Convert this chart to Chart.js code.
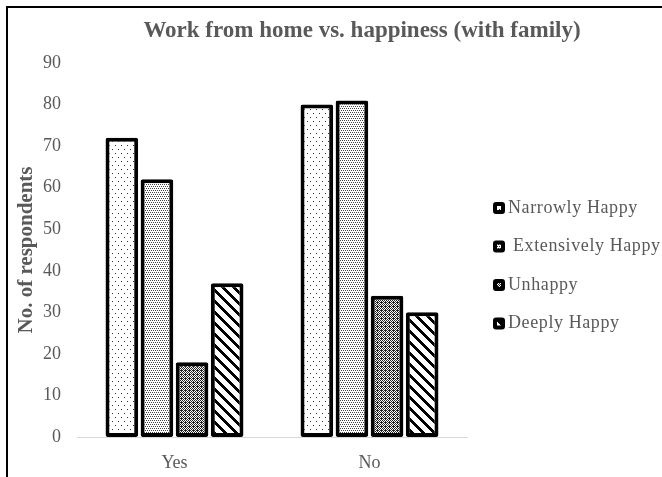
<!DOCTYPE html>
<html>
<head>
<meta charset="utf-8">
<script src="https://cdn.jsdelivr.net/npm/chart.js@4/dist/chart.umd.min.js"></script>
<style>
body { margin: 0; background: #fff; }
#frame { position: absolute; left: 6px; top: 6px; width: 660px; height: 475px; border-top: 2px solid #000; border-left: 2px solid #000; }
#myChart { position: absolute; left: 0; top: 0; }
</style>
</head>
<body>
<div id="frame"></div>
<canvas id="myChart" width="662" height="477"></canvas>
<script>
var categories = ['Yes', 'No'];
var seriesNames = ['Narrowly Happy', 'Extensively Happy', 'Unhappy', 'Deeply Happy'];
var narrowly = [72, 80];
var extensively = [62, 81];
var unhappy = [18, 34];
var deeply = [37, 30];
var yTicks = [0, 10, 20, 30, 40, 50, 60, 70, 80, 90];

// little tiles for the black & white fills
function makePattern(w, h, fn) {
    var c = document.createElement('canvas');
    c.width = w; c.height = h;
    var x = c.getContext('2d');
    x.fillStyle = '#fff';
    x.fillRect(0, 0, w, h);
    for (var i = 0; i < w; i++) {
        for (var j = 0; j < h; j++) {
            var col = fn(i, j);
            if (col) { x.fillStyle = col; x.fillRect(i, j, 1, 1); }
        }
    }
    return x.createPattern(c, 'repeat');
}
var pSparse = makePattern(6, 8, function (i, j) {
    return ((i == 1 && j == 1) || (i == 4 && j == 5)) ? '#333' : null;
});
var pDense = makePattern(4, 4, function (i, j) {
    return ((j == 0 && i % 2 == 0) || (j == 2 && i % 2 == 1)) ? '#444' : null;
});
var pCross = makePattern(4, 4, function (i, j) {
    return ((i + j) % 2 == 0 || (i == 1 && j == 2)) ? '#222' : null;
});
var pStripe = makePattern(11, 11, function (i, j) {
    return ((i - j + 11) % 11) < 4 ? '#000' : null;
});

var fills = [pSparse, pDense, pCross, pStripe];
var values = [narrowly, extensively, unhappy, deeply];
var t_datasets = [];
for (var k = 0; k < seriesNames.length; k++) {
    t_datasets.push({
        label: seriesNames[k],
        data: values[k],
        backgroundColor: fills[k],
        borderColor: '#000',
        borderWidth: 4,
        borderSkipped: false,
        borderRadius: 2,
        categoryPercentage: 0.72,
        barPercentage: 0.93
    });
}

var serif = 'Liberation Serif';
var grey = '#595959';

// title sits over plot+legend, not the whole canvas
var titlePlugin = {
    id: 'sideTitle',
    afterDraw: function (chart) {
        var c = chart.ctx;
        c.save();
        c.font = 'bold 23px "' + serif + '"';
        c.fillStyle = grey;
        c.textAlign = 'center';
        c.textBaseline = 'middle';
        c.fillText('Work from home vs. happiness (with family)', 362, 31);
        c.restore();
    }
};

// built-in legend gets squeezed to a quarter width, so draw it here
var legendPlugin = {
    id: 'sideLegend',
    afterDraw: function (chart) {
        var c = chart.ctx;
        var x0 = chart.chartArea.right + 28;
        c.save();
        c.font = '18px "' + serif + '"';
        c.letterSpacing = '0.6px';
        c.textBaseline = 'middle';
        chart.data.datasets.forEach(function (ds, i) {
            var y = 208 + i * 38.5;
            c.beginPath();
            c.roundRect(x0, y - 4, 8, 8, 1);
            c.fillStyle = ds.backgroundColor;
            c.fill();
            c.lineWidth = 4;
            c.strokeStyle = ds.borderColor;
            c.stroke();
            c.fillStyle = grey;
            c.fillText(ds.label, x0 + 13 + (i == 1 ? 5 : 0), y);
        });
        c.restore();
    }
};

var ctx = document.getElementById('myChart').getContext('2d');
var chart = new Chart(ctx, {
    type: 'bar',
    data: {
        labels: categories,
        datasets: t_datasets
    },
    options: {
        responsive: false,
        animation: false,
        layout: { padding: { top: 63, left: 14, right: 195, bottom: 0 } },
        scales: {
            x: {
                grid: { display: false, drawTicks: false },
                border: { display: true, color: '#d9d9d9', width: 1 },
                ticks: { color: grey, font: { family: serif, size: 18 }, padding: 15 },
                afterFit: function (axis) { axis.height = 40; }
            },
            y: {
                min: 0,
                max: 90,
                afterBuildTicks: function (axis) {
                    axis.ticks = yTicks.map(function (v) { return { value: v }; });
                },
                grid: { display: false, drawTicks: false },
                border: { display: false },
                ticks: { color: grey, font: { family: serif, size: 18 }, padding: 16 },
                title: {
                    display: true,
                    text: 'No. of respondents',
                    color: grey,
                    font: { family: serif, size: 21, weight: 'bold' },
                    padding: 0
                },
                afterFit: function (axis) { axis.width = 63; }
            }
        },
        plugins: {
            legend: { display: false },
            tooltip: { enabled: false }
        }
    },
    plugins: [titlePlugin, legendPlugin]
});
</script>
</body>
</html>
